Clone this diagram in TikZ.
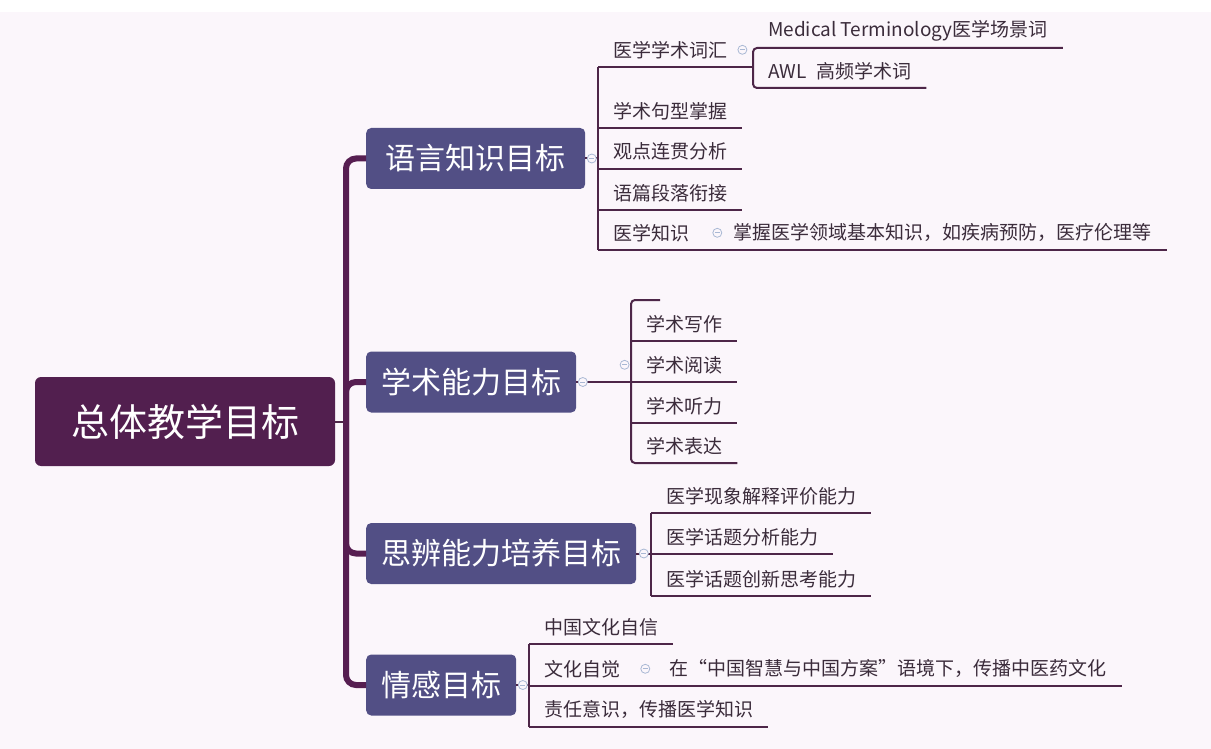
\documentclass[tikz,border=0pt]{standalone}
\usepackage{fontspec}
\setmainfont{Noto Sans CJK SC}
\usepackage{tikz}
\usetikzlibrary{positioning}
\definecolor{bgcol}{HTML}{FBF6FB}
\definecolor{rootcol}{HTML}{521F4F}
\definecolor{goalcol}{HTML}{524F85}
\definecolor{trunkcol}{HTML}{561E51}
\definecolor{linecol}{HTML}{4D2648}
\definecolor{leafcol}{HTML}{3B2C3B}
\definecolor{foldcol}{HTML}{A9B8D4}
\newcommand{\fsroot}{\fontsize{38pt}{38pt}\selectfont}
\newcommand{\fsgoal}{\fontsize{30pt}{30pt}\selectfont}
\newcommand{\fsleaf}{\fontsize{19pt}{19pt}\selectfont}
\tikzstyle{root} = [fill=rootcol, text=white, rounded corners=6pt, minimum width=300pt, minimum height=89pt, font=\fsroot]
\tikzstyle{goal} = [fill=goalcol, text=white, rounded corners=5pt, minimum height=61pt, anchor=west, font=\fsgoal]
\tikzstyle{leaf} = [text=leafcol, minimum height=34pt, inner xsep=15pt, inner ysep=0pt, anchor=south west, font=\fsleaf]
\tikzstyle{trunk} = [draw=trunkcol, line width=6pt, rounded corners=10pt]
\tikzstyle{branch} = [draw=linecol, line width=2pt]
\tikzstyle{fold} = [circle, draw=foldcol, fill=bgcol, line width=0.8pt, inner sep=0pt, minimum size=9pt,
  path picture={\draw[foldcol, line width=0.8pt] ([xshift=-2.5pt]path picture bounding box.center) -- ([xshift=2.5pt]path picture bounding box.center);}]

\begin{document}
\begin{tikzpicture}[x=1pt, y=-1pt]

\useasboundingbox (0,0) rectangle (1211,749);
\fill[white] (0,0) rectangle (1211,12);
\fill[bgcol] (0,12) rectangle (1211,749);

% root and the four goals
\node[root] (root) at (185,421.5) {总体教学目标};
\coordinate (hub) at (346,421.5);
\node[goal, minimum width=219pt] (lang) at (366,158.5) {语言知识目标};
\node[goal, minimum width=210pt] (acad) at (366,382) {学术能力目标};
\node[goal, minimum width=270pt] (crit) at (366,553.5) {思辨能力培养目标};
\node[goal, minimum width=150pt] (emo) at (366,685) {情感目标};

% language knowledge
\node[leaf] (vocab) at (598,67) {医学学术词汇};
\node[leaf] (sent) at ([yshift=-61pt]vocab.south west) {学术句型掌握};
\node[leaf] (view) at ([yshift=-41pt]sent.south west) {观点连贯分析};
\node[leaf] (para) at ([yshift=-41pt]view.south west) {语篇段落衔接};
\node[leaf] (medk) at ([yshift=-40pt]para.south west) {医学知识};
\node[leaf, right=14pt of medk] (medk2) {掌握医学领域基本知识，如疾病预防，医疗伦理等};
\node[leaf] (term) at (753,48) {Medical Terminology医学场景词};
\node[leaf] (awl) at ([yshift=-40pt]term.south west) {AWL\enspace 高频学术词};

% academic skills
\node[leaf] (write) at (631,341) {学术写作};
\node[leaf] (read) at ([yshift=-41pt]write.south west) {学术阅读};
\node[leaf] (listen) at ([yshift=-41pt]read.south west) {学术听力};
\node[leaf] (speak) at ([yshift=-40pt]listen.south west) {学术表达};
\coordinate (stub) at (660,300);

% critical thinking
\node[leaf] (expl) at (651,513) {医学现象解释评价能力};
\node[leaf] (anal) at ([yshift=-41pt]expl.south west) {医学话题分析能力};
\node[leaf] (innov) at ([yshift=-42pt]anal.south west) {医学话题创新思考能力};

% affective goals
\node[leaf] (conf) at (529,644) {中国文化自信};
\node[leaf] (aware) at ([yshift=-42pt]conf.south west) {文化自觉};
\node[leaf] (resp) at ([yshift=-41pt]aware.south west) {责任意识，传播医学知识};
\node[leaf, right=19pt of aware] (aware2) {在“中国智慧与中国方案”语境下，传播中医药文化};

% trunk
\draw[branch] (root.east) -- (hub);
\draw[trunk] (lang.west) -| (hub) |- (emo.west);
\draw[trunk] (hub) |- (acad.west);
\draw[trunk] (hub) |- (crit.west);

% branches
\draw[branch] (lang.east) -- (lang.east -| vocab.south west);
\draw[branch] (vocab.south west) -- (medk.south west);
\draw[branch] (vocab.south west) -- (vocab.south west -| term.south west);
\draw[branch, rounded corners=4pt] (term.south east) -- (term.south west) |- (awl.south east);
\foreach \n in {sent,view,para} \draw[branch] (\n.south west) -- (\n.south east);
\draw[branch] (medk.south west) -- (medk2.south east);

\draw[branch] (acad.east) -- (acad.east -| read.south west);
\draw[branch, rounded corners=4pt] (stub) -| (speak.south west) -- (speak.south east);
\foreach \n in {write,read,listen} \draw[branch] (\n.south west) -- (\n.south east);

\draw[branch] (crit.east) -- (crit.east -| anal.south west);
\draw[branch] (expl.south west) -- (innov.south west);
\foreach \n in {expl,anal,innov} \draw[branch] (\n.south west) -- (\n.south east);

\draw[branch] (emo.east) -- (emo.east -| aware.south west);
\draw[branch] (conf.south west) -- (resp.south west);
\foreach \n in {conf,resp} \draw[branch] (\n.south west) -- (\n.south east);
\draw[branch] (aware.south west) -- (aware2.south east);

% fold markers
\node[fold, right=1.5pt of lang] (flang) {};
\node[fold] (fvocab) at (vocab.east) {};
\node[fold, right=8pt of medk] (fmedk) {};
\node[fold, right=1.5pt of acad] (facad) {};
\node[fold, left=1.5pt of read.west] (fread) {};
\node[fold, right=2.5pt of crit] (fcrit) {};
\node[fold, right=1.5pt of emo] (femo) {};
\node[fold, right=5pt of aware] (faware) {};

\end{tikzpicture}
\end{document}
